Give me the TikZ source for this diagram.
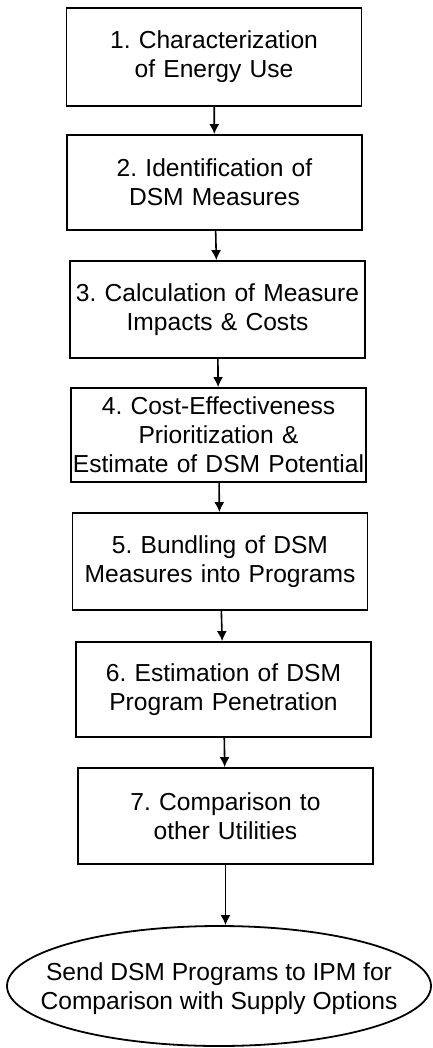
\documentclass[tikz,border=0pt]{standalone}
\usepackage{fontspec}
\setmainfont{Liberation Sans}
\frenchspacing
\usetikzlibrary{shapes.geometric,arrows.meta}

\begin{document}
\begin{tikzpicture}[x=0.5pt,y=-0.5pt,
    txt/.style={align=center,font=\fontsize{12.3}{14.6}\selectfont},
    box/.style={txt,draw,line width=0.9pt,text width=147pt,inner xsep=0.25pt,inner ysep=1pt},
    flow/.style={-{Latex[length=5pt,width=5pt]},line width=0.8pt}]
      \useasboundingbox (0,0) rectangle (433,1048);

      \node[box,minimum height=49pt]   (s1) at (214,57)    {1. Characterization\\of Energy Use};
      \node[box,minimum height=47.5pt] (s2) at (214.5,182.5) {2. Identification of\\DSM Measures};
      \node[box,minimum height=48.5pt] (s3) at (217.5,309.5) {3. Calculation of Measure\\Impacts \& Costs};
      \node[box,minimum height=47pt]   (s4) at (218.5,435)   {4. Cost-Effectiveness\\Prioritization \&\\Estimate of DSM Potential};
      \node[box,minimum height=48.5pt] (s5) at (220,561.5)   {5. Bundling of DSM\\Measures into Programs};
      \node[box,minimum height=47.5pt] (s6) at (223.5,689.5) {6. Estimation of DSM\\Program Penetration};
      \node[box,minimum height=48pt]   (s7) at (225.5,816)   {7. Comparison to\\other Utilities};

      % end state, text set on top of the ellipse
      \node[draw,ellipse,line width=0.9pt,minimum width=212pt,minimum height=60pt] (ipm) at (219,986) {};
      \node[txt] (ipmtext) at (219,989) {Send DSM Programs to IPM for\\Comparison with Supply Options};

      \draw[flow] (s1) -- (s2);
      \draw[flow] (s2) -- (s3);
      \draw[flow] (s3) -- (s4);
      \draw[flow] (s4) -- (s5);
      \draw[flow] (s5) -- (s6);
      \draw[flow] (s6) -- (s7);
      \draw[flow] (s7.south) -- (s7.south |- ipm.north);
    \end{tikzpicture}
\end{document}
